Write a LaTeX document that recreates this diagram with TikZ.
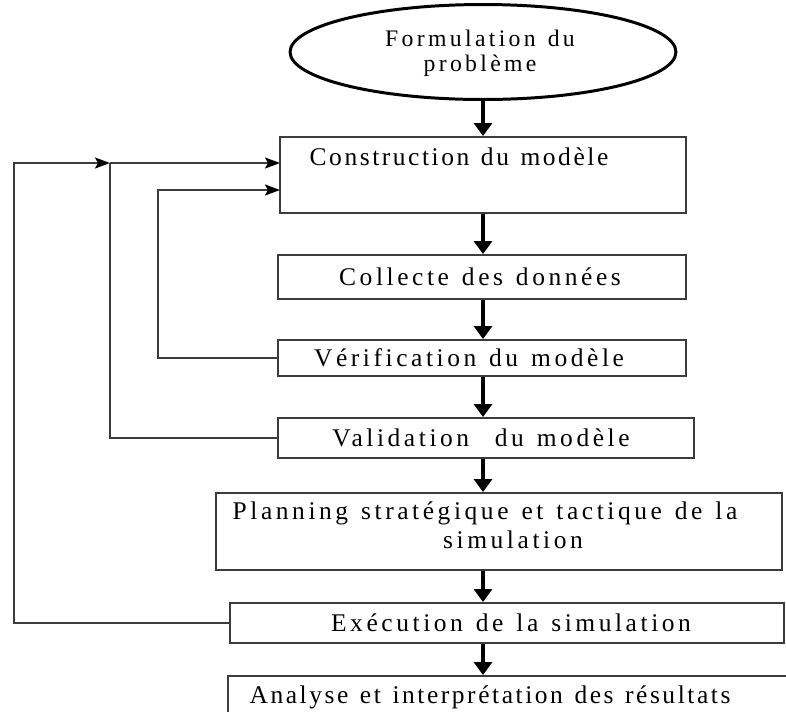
\documentclass[tikz,border=0pt]{standalone}
\usepackage{fontspec}
\setmainfont{Liberation Serif}[LetterSpace=14,WordSpace=1.3]
\usetikzlibrary{shapes.geometric,arrows.meta,fit}
\definecolor{linegray}{RGB}{60,60,60}
\tikzset{
	box/.style={draw=linegray,line width=1.1pt,inner sep=0pt},
	downarrow/.style={line width=2.6pt,-{Triangle[width=0.36cm,length=0.26cm]}},
	feedback/.style={draw=linegray,line width=1.1pt},
	feedbackarrow/.style={feedback,-{Stealth[width=0.22cm,length=0.3cm,inset=0.06cm,color=black]}}
}
\begin{document}
\begin{tikzpicture}[x=0.02cm,y=-0.02cm]
			\newcommand{\myboxfont}{\fontsize{14.5}{16}\selectfont}
			\newcommand{\myboxfonttight}{\fontsize{14.5}{16}\selectfont\addfontfeatures{LetterSpace=10}}
			\newcommand{\myovalfont}{\fontsize{13.5}{14.2}\selectfont}
			%Frame of the picture
			\clip (0,0) rectangle (786,711);
			%Top of the chart
			\node [draw=black,line width=1.7pt,ellipse,minimum width=7.72cm,minimum height=1.9cm,inner sep=0pt] (formul) at (483,52) {};
			\node [align=center,font=\myovalfont] (formultxt) at (480,53) {Formulation du\\problème};
			%Boxes
			\node [box,fit={(280,137) (686,213)}] (constr) {};
			\node [box,fit={(278,255) (686,299)}] (collect) {};
			\node [box,fit={(278,340) (686,376)}] (verif) {};
			\node [box,fit={(278,418) (694,458)}] (valid) {};
			\node [box,fit={(216,493) (782,570)}] (plan) {};
			\node [box,fit={(230,603) (784,643)}] (exec) {};
			\node [box,fit={(228,676) (800,740)}] (anal) {};
			%Texts in the boxes
			\node [font=\myboxfonttight] (constrtxt) at (459,157) {Construction du modèle};
			\node [font=\myboxfont] (collecttxt) at (480,277) {Collecte des données};
			\node [font=\myboxfont] (veriftxt) at (469,358) {Vérification\enspace du modèle};
			\node [font=\myboxfont] (validtxt) at (481,438) {Validation\enspace\ du modèle};
			\node [font=\myboxfont] (plantxtA) at (485,513) {Planning stratégique et tactique de la};
			\node [font=\myboxfont] (plantxtB) at (513,540) {simulation};
			\node [font=\myboxfont] (exectxt) at (511,623) {Exécution de la simulation};
			\node [font=\myboxfonttight] (analtxt) at (490,697) {Analyse et interprétation des résultats};
			%Main arrows going down
			\coordinate (spine) at (483,0);
			\draw [downarrow] (formul.south) -- (constr.north -| spine);
			\draw [downarrow] (constr.south -| spine) -- (collect.north -| spine);
			\draw [downarrow] (collect.south -| spine) -- (verif.north -| spine);
			\draw [downarrow] (verif.south -| spine) -- (valid.north -| spine);
			\draw [downarrow] (valid.south -| spine) -- (plan.north -| spine);
			\draw [downarrow] (plan.south -| spine) -- (exec.north -| spine);
			\draw [downarrow] (exec.south -| spine) -- (anal.north -| spine);
			%Feedback loops on the left
			\coordinate (loopOuter) at (14,163);
			\coordinate (loopMiddle) at (110,163);
			\coordinate (loopInner) at (158,190);
			\coordinate (constrIn1) at (280,163);
			\coordinate (constrIn2) at (280,190);
			\draw [feedbackarrow] (exec.west) -| (loopOuter) -- (loopMiddle);
			\draw [feedbackarrow] (loopMiddle) -- (constrIn1);
			\draw [feedback] (valid.west) -| (loopMiddle);
			\draw [feedbackarrow] (verif.west) -| (loopInner) -- (constrIn2);
\end{tikzpicture}
\end{document}
